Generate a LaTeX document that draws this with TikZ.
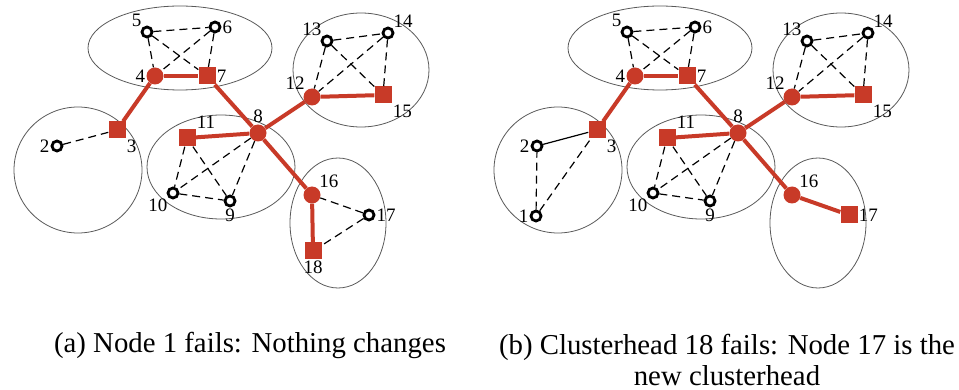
\documentclass[tikz,border=0pt]{standalone}
\usepackage{fontspec}
\setmainfont{Liberation Serif}
\definecolor{headred}{RGB}{200,58,40}
\begin{document}
\begin{tikzpicture}[x=1pt,y=-1pt,
	plain/.style={ circle, draw, line width=2.8pt, fill=white, inner sep=0pt, minimum size=10pt },
	gate/.style={ circle, fill=headred, inner sep=0pt, minimum size=17pt },
	head/.style={ rectangle, fill=headred, inner sep=0pt, minimum size=17pt },
	link/.style={ dash pattern=on 8pt off 5pt, line width=1.2pt },
	tree/.style={ headred, line width=4pt },
	cluster/.style={ black!65, line width=0.8pt },
	every label/.style={ font=\fontsize{19}{19}\selectfont, inner sep=1pt },
	caption/.style={ font=\fontsize{28.8}{31}\selectfont, align=center }
]
\useasboundingbox (0,0) rectangle (959,390);

% (a) node 1 fails
\foreach \c/\rx/\ry in {{(180,48)}/92/42, {(361,70)}/68/57, {(78,170)}/64/63, {(221,167)}/74/52, {(338,223)}/48/65}
	\draw[cluster] \c ellipse [x radius=\rx, y radius=\ry];

\node at (147,32) (a5) [plain,label=above left:{5}] {};
\node at (215,27) (a6) [plain,label=right:{6}] {};
\node at (155,76) (a4) [gate,label=left:{4}] {};
\node at (207,76) (a7) [head,label=right:{7}] {};
\foreach \p in {a6,a4,a7} \draw[link] (a5) to (\p);
\foreach \p in {a4,a7} \draw[link] (a6) to (\p);
\draw[tree] (a4) to (a7);

\node at (117,130) (a3) [head,label=below right:{3}] {};
\node at (57,146) (a2) [plain,label=left:{2}] {};
\draw[link] (a2) to (a3);
\draw[tree] (a3) to (a4);

\node at (258,133) (a8) [gate,label=above:{8}] {};
\node at (187,138) (a11) [head,label=above right:{11}] {};
\node at (173,193) (a10) [plain,label=below left:{10}] {};
\node at (230,201) (a9) [plain,label=below:{9}] {};
\foreach \p in {a10,a9} \draw[link] (a11) to (\p);
\foreach \p in {a10,a9} \draw[link] (a8) to (\p);
\draw[link] (a10) to (a9);
\foreach \p in {a7,a11} \draw[tree] (a8) to (\p);

\node at (312,97) (a12) [gate,label=above left:{12}] {};
\node at (383,95) (a15) [head,label=below right:{15}] {};
\node at (327,41) (a13) [plain,label=above left:{13}] {};
\node at (388,33) (a14) [plain,label=above right:{14}] {};
\foreach \p in {a14,a12,a15} \draw[link] (a13) to (\p);
\foreach \p in {a12,a15} \draw[link] (a14) to (\p);
\draw[tree] (a8) to (a12);
\draw[tree] (a12) to (a15);

\node at (312,195) (a16) [gate,label=above right:{16}] {};
\node at (369,215) (a17) [plain,label=right:{17}] {};
\node at (313,251) (a18) [head,label=below:{18}] {};
\foreach \p in {a16,a18} \draw[link] (a17) to (\p);
\draw[tree] (a8) to (a16);
\draw[tree] (a16) to (a18);

\node at (250,345) (capa) [caption] {(a) Node 1 fails: Nothing changes};

% (b) clusterhead 18 fails
\begin{scope}[xshift=480pt]
\foreach \c/\rx/\ry in {{(180,48)}/92/42, {(361,70)}/68/57, {(78,170)}/64/63, {(221,167)}/74/52, {(338,223)}/48/65}
	\draw[cluster] \c ellipse [x radius=\rx, y radius=\ry];

\node at (147,32) (b5) [plain,label=above left:{5}] {};
\node at (215,27) (b6) [plain,label=right:{6}] {};
\node at (155,76) (b4) [gate,label=left:{4}] {};
\node at (207,76) (b7) [head,label=right:{7}] {};
\foreach \p in {b6,b4,b7} \draw[link] (b5) to (\p);
\foreach \p in {b4,b7} \draw[link] (b6) to (\p);
\draw[tree] (b4) to (b7);

\node at (117,130) (b3) [head,label=below right:{3}] {};
\node at (57,146) (b2) [plain,label=left:{2}] {};
\node at (56,216) (b1) [plain,label=left:{1}] {};
\draw[line width=1.2pt] (b2) to (b3);
\foreach \p in {b2,b3} \draw[link] (b1) to (\p);
\draw[tree] (b3) to (b4);

\node at (258,133) (b8) [gate,label=above:{8}] {};
\node at (187,138) (b11) [head,label=above right:{11}] {};
\node at (173,193) (b10) [plain,label=below left:{10}] {};
\node at (230,201) (b9) [plain,label=below:{9}] {};
\foreach \p in {b10,b9} \draw[link] (b11) to (\p);
\foreach \p in {b10,b9} \draw[link] (b8) to (\p);
\draw[link] (b10) to (b9);
\foreach \p in {b7,b11} \draw[tree] (b8) to (\p);

\node at (312,97) (b12) [gate,label=above left:{12}] {};
\node at (383,95) (b15) [head,label=below right:{15}] {};
\node at (327,41) (b13) [plain,label=above left:{13}] {};
\node at (388,33) (b14) [plain,label=above right:{14}] {};
\foreach \p in {b14,b12,b15} \draw[link] (b13) to (\p);
\foreach \p in {b12,b15} \draw[link] (b14) to (\p);
\draw[tree] (b8) to (b12);
\draw[tree] (b12) to (b15);

\node at (312,195) (b16) [gate,label=above right:{16}] {};
\node at (369,215) (b17) [head,label=right:{17}] {};
\draw[tree] (b8) to (b16);
\draw[tree] (b16) to (b17);

\node at (247,360) (capb) [caption] {(b) Clusterhead 18 fails: Node 17 is the\\new clusterhead};
\end{scope}

\end{tikzpicture}
\end{document}
